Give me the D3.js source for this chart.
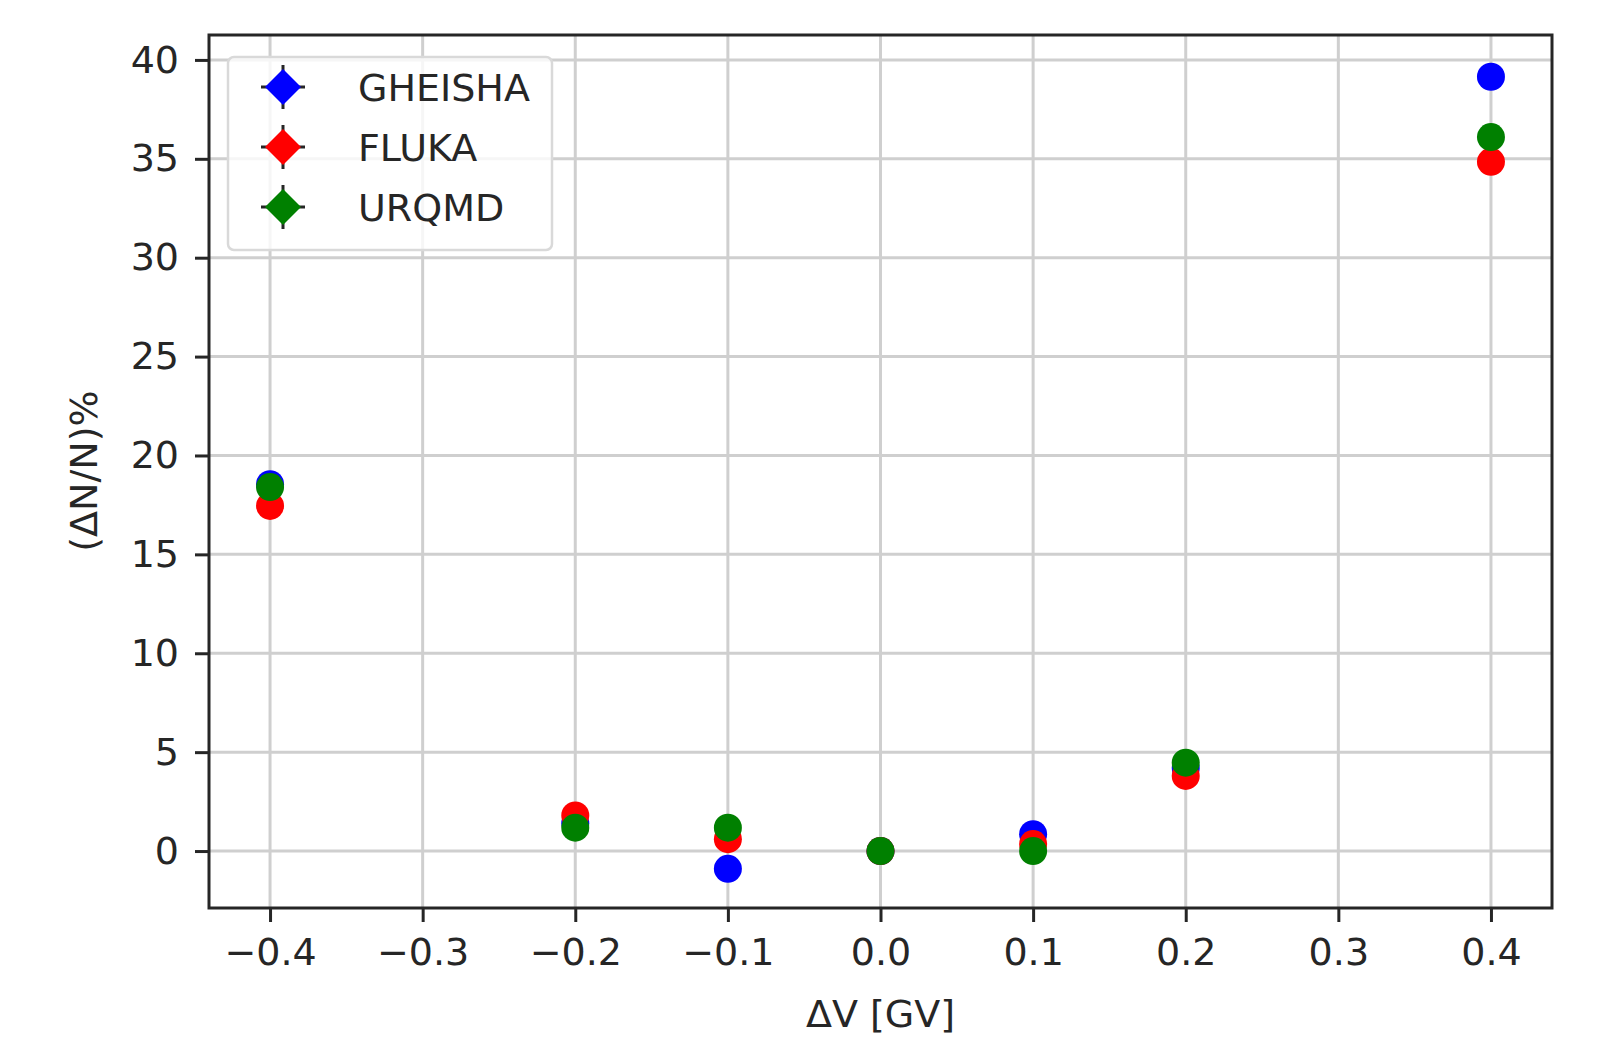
<!DOCTYPE html>
<html><head><meta charset="utf-8">
<script src="https://cdn.jsdelivr.net/npm/d3@7"></script>
<style>
html,body{margin:0;padding:0;background:#fff;}
text{font-family:"DejaVu Sans",sans-serif;fill:#262626;}
</style></head>
<body>
<svg id="c" width="1606" height="1045"></svg>
<script>
const xValues = [-0.4, -0.2, -0.1, 0.0, 0.1, 0.2, 0.4];
const gheisha = [18.55, 1.4, -0.9, 0.0, 0.85, 4.2, 39.15];
const fluka   = [17.45, 1.8, 0.6, 0.0, 0.35, 3.8, 34.85];
const urqmd   = [18.4, 1.18, 1.18, 0.0, 0.0, 4.47, 36.1];
const seriesNames = ["GHEISHA", "FLUKA", "URQMD"];
const seriesColors = ["#0000ff", "#ff0000", "#008000"];
const xTicks = [-0.4, -0.3, -0.2, -0.1, 0.0, 0.1, 0.2, 0.3, 0.4];
const yTicks = [0, 5, 10, 15, 20, 25, 30, 35, 40];

const svg = d3.select("#c");
const L = 209, R = 1552, T = 35, B = 908;
const x = d3.scaleLinear().domain([-0.44, 0.44]).range([L, R]);
const y = d3.scaleLinear().domain([-2.88, 41.26]).range([B, T]);
const fs = 38;

// grid
const g = svg.append("g");
g.selectAll(".gx").data(xTicks).enter().append("line")
  .attr("x1", d => x(d)).attr("x2", d => x(d)).attr("y1", T).attr("y2", B)
  .attr("stroke", "#cfcfcf").attr("stroke-width", 3);
g.selectAll(".gy").data(yTicks).enter().append("line")
  .attr("y1", d => y(d)).attr("y2", d => y(d)).attr("x1", L).attr("x2", R)
  .attr("stroke", "#cfcfcf").attr("stroke-width", 3);

// axes
const xAxis = d3.axisBottom(x).tickValues(xTicks).tickSize(14).tickPadding(16)
  .tickFormat(d => d3.format(".1f")(d).replace("-", "\u2212"));
const yAxis = d3.axisLeft(y).tickValues(yTicks).tickSize(14).tickPadding(16)
  .tickFormat(d3.format("d"));
const ax = svg.append("g").attr("transform", `translate(0,${B})`).call(xAxis);
const ay = svg.append("g").attr("transform", `translate(${L},0)`).call(yAxis);
[ax, ay].forEach(a => {
  a.select(".domain").remove();
  a.selectAll(".tick line").attr("stroke", "#262626").attr("stroke-width", 3);
  a.selectAll(".tick text").attr("font-size", fs).attr("font-family", "DejaVu Sans").attr("fill", "#262626");
});

// frame
svg.append("rect").attr("x", L).attr("y", T).attr("width", R - L).attr("height", B - T)
  .attr("fill", "none").attr("stroke", "#262626").attr("stroke-width", 3);

// points
const allSeries = [gheisha, fluka, urqmd];
allSeries.forEach((vals, i) => {
  svg.append("g").selectAll("circle").data(vals).enter().append("circle")
    .attr("cx", (d, j) => x(xValues[j])).attr("cy", d => y(d)).attr("r", 14)
    .attr("fill", seriesColors[i]);
});

// legend
const lg = svg.append("g");
lg.append("rect").attr("x", 228).attr("y", 57).attr("width", 324).attr("height", 193)
  .attr("rx", 6).attr("fill", "#fff").attr("fill-opacity", 0.8)
  .attr("stroke", "#d9d9d9").attr("stroke-width", 2.5);
seriesNames.forEach((n, i) => {
  const cy = 87 + i * 60, cx = 283;
  lg.append("line").attr("x1", cx - 22).attr("x2", cx + 22).attr("y1", cy).attr("y2", cy)
    .attr("stroke", "#262626").attr("stroke-width", 3);
  lg.append("line").attr("x1", cx).attr("x2", cx).attr("y1", cy - 22).attr("y2", cy + 22)
    .attr("stroke", "#262626").attr("stroke-width", 3);
  lg.append("path").attr("d", `M${cx},${cy-18}L${cx+18},${cy}L${cx},${cy+18}L${cx-18},${cy}Z`)
    .attr("fill", seriesColors[i]);
  lg.append("text").attr("x", 358).attr("y", cy).attr("dy", "0.36em")
    .attr("font-size", fs).text(n);
});

// axis labels
svg.append("text").attr("x", (L + R) / 2).attr("y", 1013).attr("dy", "0.36em")
  .attr("text-anchor", "middle").attr("font-size", fs).text("\u0394V [GV]");
svg.append("text").attr("transform", "translate(83,471) rotate(-90)").attr("dy", "0.36em")
  .attr("text-anchor", "middle").attr("font-size", fs).text("(\u0394N/N)%");
</script>
</body></html>
